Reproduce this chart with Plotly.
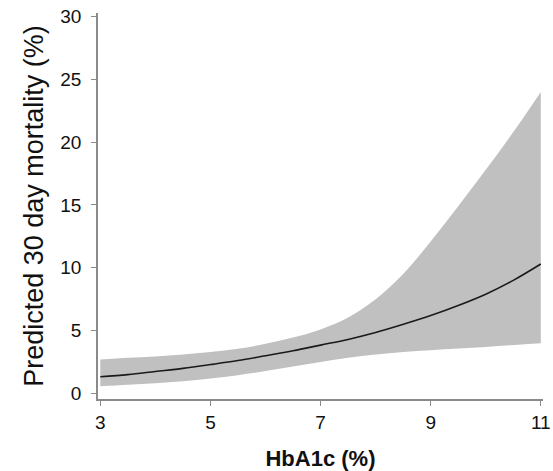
import plotly.graph_objects as go

hba1c = [3, 3.5, 4, 4.5, 5, 5.5, 6, 6.5, 7, 7.5, 8, 8.5, 9, 9.5, 10, 10.5, 11]
predicted = [1.33, 1.5, 1.75, 2.0, 2.3, 2.62, 3.0, 3.4, 3.85, 4.3, 4.85, 5.5, 6.2, 7.0, 7.9, 9.0, 10.3]
upper_ci = [2.7, 2.85, 2.95, 3.1, 3.3, 3.55, 3.95, 4.45, 5.1, 6.05, 7.5, 9.5, 12.1, 14.9, 17.8, 20.8, 24.0]
lower_ci = [0.58, 0.7, 0.82, 0.98, 1.2, 1.45, 1.78, 2.15, 2.5, 2.85, 3.1, 3.3, 3.44, 3.57, 3.7, 3.85, 4.0]

x_ticks = [3, 5, 7, 9, 11]
y_ticks = [0, 5, 10, 15, 20, 25, 30]

fig = go.Figure()
fig.add_trace(go.Scatter(x=hba1c, y=upper_ci, mode="lines", line=dict(width=0, shape="spline"),
                         hoverinfo="skip", showlegend=False))
fig.add_trace(go.Scatter(x=hba1c, y=lower_ci, mode="lines", line=dict(width=0, shape="spline"),
                         fill="tonexty", fillcolor="#c0c0c0", hoverinfo="skip", showlegend=False))
fig.add_trace(go.Scatter(x=hba1c, y=predicted, mode="lines",
                         line=dict(color="#1a1a1a", width=1.6, shape="spline"), showlegend=False))

font_family = "Liberation Sans, Arial, sans-serif"
fig.update_layout(
    width=553, height=471,
    margin=dict(l=98, r=10, t=13, b=72),
    paper_bgcolor="white", plot_bgcolor="white",
    font=dict(family=font_family, color="#111111"),
    xaxis=dict(range=[2.958, 11.04], tickvals=x_ticks, ticktext=[str(v) for v in x_ticks],
               showgrid=False, zeroline=False, showline=True, linecolor="#8a8a8a", linewidth=1.5,
               ticks="outside", ticklen=5, tickcolor="#8a8a8a", tickfont=dict(size=19),
               ticklabelstandoff=0, automargin=False,
               title=dict(text="<b>HbA1c (%)</b>", font=dict(size=22), standoff=24)),
    yaxis=dict(range=[-0.44, 30.28], tickvals=y_ticks, ticktext=[str(v) for v in y_ticks],
               showgrid=False, zeroline=False, showline=True, linecolor="#8a8a8a", linewidth=1.5,
               ticks="outside", ticklen=5, tickcolor="#8a8a8a", tickfont=dict(size=19),
               ticklabelstandoff=6, automargin=False,
               title=dict(text="Predicted 30 day mortality (%)", font=dict(size=27), standoff=9)),
)
fig.write_html("out.html", config={"displayModeBar": False})

with open("out.html", "r", encoding="utf-8") as f:
    html = f.read()
html = html.replace("<head>", "<head><style>html,body{margin:0;padding:0;overflow:hidden;}</style>", 1)
with open("out.html", "w", encoding="utf-8") as f:
    f.write(html)
